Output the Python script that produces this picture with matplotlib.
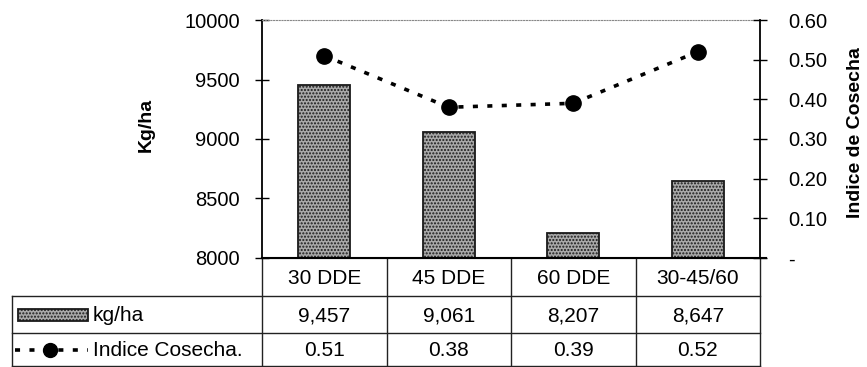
import matplotlib.pyplot as plt
from matplotlib.lines import Line2D
from matplotlib.patches import Rectangle
import numpy as np

categorias = ['30 DDE', '45 DDE', '60 DDE', '30-45/60']
rendimiento = [9457, 9061, 8207, 8647]        # kg/ha
indice_cosecha = [0.51, 0.38, 0.39, 0.52]

plt.rcParams['font.family'] = ['Liberation Sans', 'DejaVu Sans']
plt.rcParams['hatch.linewidth'] = 1.0

W, H = 867, 367
fig = plt.figure(figsize=(W / 100, H / 100), dpi=100)

# plot area in pixel terms
x0, x1, y_top, y_bot = 262, 760, 20, 258
ax = fig.add_axes([x0 / W, 1 - y_bot / H, (x1 - x0) / W, (y_bot - y_top) / H])

x = np.arange(len(categorias))
bar_style = dict(facecolor='#a9a9a9', edgecolor='#1a1a1a', hatch='.....', linewidth=1.3)
ax.bar(x, rendimiento, width=0.42, **bar_style)
ax.set_xlim(-0.5, len(categorias) - 0.5)
ax.set_ylim(8000, 10000)
ax.set_yticks(range(8000, 10001, 500))
ax.set_xticks([])
ax.tick_params(axis='y', direction='inout', length=10, width=1, pad=11, labelsize=14.5)
ax.set_ylabel('Kg/ha', fontsize=14, fontweight='bold')
ax.yaxis.set_label_coords(-0.215, 0.56)
ax.spines['top'].set_linestyle((0, (1, 1.5)))
ax.spines['top'].set_color('#888888')
ax.spines['right'].set_visible(False)
ax.spines['left'].set_linewidth(1.3)
ax.spines['bottom'].set_linewidth(1.5)

# harvest index on the secondary axis
ax2 = ax.twinx()
ax2.plot(x, indice_cosecha, color='black', linestyle=(0, (1.4, 2.6)), linewidth=2.6,
         marker='o', markersize=11)
ax2.set_ylim(0, 0.6)
ax2.set_yticks(np.arange(0, 0.61, 0.1))
ax2.yaxis.set_major_formatter(lambda v, p: '-' if abs(v) < 1e-9 else f'{v:.2f}')
ax2.tick_params(axis='y', direction='inout', length=10, width=1, pad=15, labelsize=14.5)
ax2.set_ylabel('Indice de Cosecha', fontsize=14, fontweight='bold')
ax2.yaxis.set_label_coords(1.174, 0.525)
for s in ('top', 'left', 'bottom'):
    ax2.spines[s].set_visible(False)
ax2.spines['right'].set_linewidth(1.3)

# data table underneath, drawn in pixel coordinates
tb = fig.add_axes([0, 0, 1, 1], zorder=-1)
tb.set_xlim(0, W)
tb.set_ylim(H, 0)
tb.axis('off')

col_w = (x1 - x0) / len(categorias)
col_edges = [x0 + i * col_w for i in range(len(categorias) + 1)]
rows = [y_bot, 296, 333, 366]
lab_x = 12
line_kw = dict(color='#222222', linewidth=1)

tb.plot([x0, x1 + 6], [y_bot, y_bot], color='black', linewidth=1.5)
for yy in rows[1:]:
    tb.plot([lab_x, x1], [yy, yy], **line_kw)
for xx in col_edges:
    tb.plot([xx, xx], [rows[0], rows[-1]], **line_kw)
tb.plot([lab_x, lab_x], [rows[1], rows[-1]], **line_kw)

cell_font = dict(fontsize=15, ha='center', va='center')
for i, cat in enumerate(categorias):
    cx = col_edges[i] + col_w / 2
    tb.text(cx, (rows[0] + rows[1]) / 2 + 1, cat, **cell_font)
    tb.text(cx, (rows[1] + rows[2]) / 2 + 1, f'{rendimiento[i]:,}', **cell_font)
    tb.text(cx, (rows[2] + rows[3]) / 2 + 1, f'{indice_cosecha[i]:.2f}', **cell_font)

# legend keys in the row headers
ry1 = (rows[1] + rows[2]) / 2
tb.add_patch(Rectangle((18, ry1 - 6), 70, 12, **bar_style))
tb.text(93, ry1 + 1, 'kg/ha', fontsize=15, va='center')
ry2 = (rows[2] + rows[3]) / 2
tb.add_line(Line2D([15, 50, 88], [ry2, ry2, ry2], color='black', linestyle=(0, (1.4, 2.6)),
                   linewidth=2.6, marker='o', markersize=10, markevery=[1]))
tb.text(93, ry2 + 1, 'Indice Cosecha.', fontsize=15, va='center')

fig.savefig('out.png', dpi=100)
